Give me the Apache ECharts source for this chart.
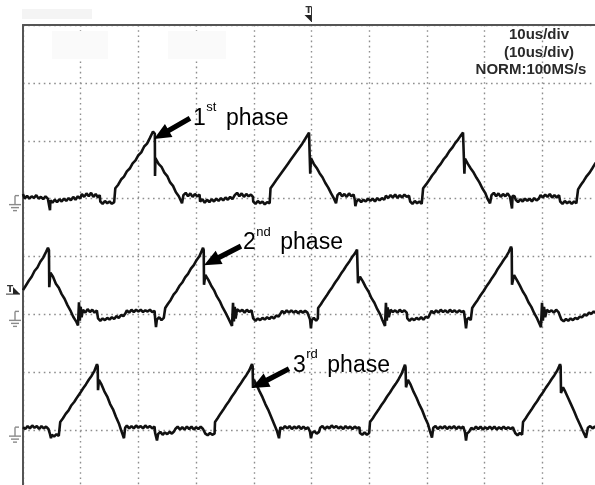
<!DOCTYPE html>
<html>
<head>
<meta charset="utf-8">
<script src="https://cdn.jsdelivr.net/npm/echarts@6/dist/echarts.min.js"></script>
<style>
html,body{margin:0;padding:0;background:#fff;}
#c{width:595px;height:485px;}
</style>
</head>
<body>
<div id="c"></div>
<script>
// ---- DATA (time in us, amplitude in divisions) ----
const timeBaseLabels = ['10us/div', '(10us/div)', 'NORM:100MS/s'];
const phaseNumbers = ['1', '2', '3'];
const phaseSuffixes = ['st', 'nd', 'rd'];
const phaseWord = 'phase';
const channelGroundLevels = [5, 3, 1];

const ch1Trace = [
[0,5.08],[0.3,5.0],[0.7,5.05],[1.1,5.0],[1.5,5.04],[1.9,5.01],[2.3,5.06],[2.7,5.0],[3.1,5.03],[3.5,4.99],[3.9,5.04],[4.3,5.0],[4.6,5.02],[4.68,4.80],[4.75,4.97],
[5.1,4.93],[5.5,4.98],[5.9,4.94],[6.3,4.99],[6.7,4.95],[7.1,5.0],[7.5,4.96],[7.9,5.01],[8.3,4.97],[8.7,5.03],[9.1,4.98],[9.5,5.04],[9.9,5.0],
[10.2,5.08],[10.6,5.03],[11.0,5.09],[11.4,5.04],[11.8,5.1],[12.2,5.03],[12.6,5.08],[13.0,5.02],[13.3,5.06],
[13.4,4.95],[13.8,4.91],[14.2,4.96],[14.6,4.92],[15.0,4.95],[15.4,4.91],[15.8,4.94],
[15.94,4.95],[16.0,5.18],[16.5,5.24],[17.0,5.33],[17.5,5.38],[18.0,5.47],[18.5,5.52],[19.0,5.61],[19.5,5.66],[20.0,5.75],[20.5,5.80],[21.0,5.90],[21.5,5.95],[22.0,6.05],[22.53,6.16],[22.85,6.12],[22.88,5.39],[22.95,5.70],
[23.5,5.60],[24.0,5.55],[24.5,5.45],[25.0,5.39],[25.5,5.28],[26.0,5.22],[26.5,5.11],[27.0,5.04],[27.56,4.92],
[27.8,5.06],[28.2,5.1],[28.6,5.04],[29.0,5.09],[29.4,5.03],[29.8,5.08],[30.2,5.04],[30.6,5.07],
[30.7,4.95],[31.1,4.99],[31.5,4.93],[31.9,4.98],[32.3,4.94],[32.7,4.99],[33.1,4.95],[33.5,5.0],[33.9,4.96],
[34.3,5.01],[34.7,4.97],[35.1,5.02],[35.5,4.98],[35.9,5.03],[36.3,4.99],
[36.7,5.06],[37.1,5.1],[37.5,5.04],[37.9,5.09],[38.3,5.03],[38.7,5.08],[39.1,5.04],[39.5,5.07],[39.85,5.03],
[39.9,4.95],[40.3,4.91],[40.7,4.96],[41.1,4.92],[41.5,4.95],[41.9,4.9],[42.3,4.94],[42.75,4.92],
[42.81,4.93],[42.9,5.18],[43.4,5.25],[43.9,5.32],[44.4,5.39],[44.9,5.46],[45.4,5.53],[45.9,5.60],[46.4,5.67],[46.9,5.74],[47.4,5.81],[47.9,5.88],[48.4,5.95],[48.9,6.03],[49.57,6.14],[49.75,6.11],[49.78,5.43],[49.9,5.70],
[50.4,5.6],[50.9,5.53],[51.4,5.44],[51.9,5.37],[52.4,5.27],[52.9,5.19],[53.4,5.09],[53.9,5.0],[54.25,4.92],
[54.5,5.06],[54.9,5.1],[55.3,5.04],[55.7,5.08],[56.1,5.03],[56.5,5.09],[56.9,5.04],[57.3,5.07],
[57.5,4.98],[57.6,4.87],[57.8,4.95],[58.2,4.99],[58.6,4.94],[59.0,4.98],[59.4,4.95],[59.8,5.0],[60.2,4.96],[60.6,5.0],[61.0,4.95],[61.4,5.01],[61.8,4.97],[62.2,5.01],[62.6,4.98],
[62.9,5.05],[63.3,5.01],[63.7,5.06],[64.1,5.02],[64.5,5.07],[64.9,5.01],[65.3,5.06],[65.7,5.02],[66.1,5.07],[66.5,5.03],[66.9,5.05],
[67.1,4.95],[67.5,4.91],[67.9,4.96],[68.3,4.92],[68.7,4.95],[69.1,4.91],[69.3,4.94],
[69.35,5.18],[69.9,5.25],[70.4,5.32],[70.9,5.4],[71.4,5.46],[71.9,5.54],[72.4,5.6],[72.9,5.68],[73.4,5.74],[73.9,5.82],[74.4,5.88],[74.9,5.96],[75.4,6.02],[75.8,6.08],[76.26,6.14],[76.45,6.11],[76.5,5.43],[76.6,5.69],
[77.1,5.6],[77.6,5.52],[78.1,5.45],[78.6,5.36],[79.1,5.28],[79.6,5.18],[80.1,5.1],[80.5,5.0],[80.94,4.92],
[81.2,5.06],[81.6,5.1],[82.0,5.04],[82.4,5.09],[82.8,5.03],[83.2,5.08],[83.6,5.04],[84.0,5.09],[84.4,5.03],[84.75,4.83],[84.85,5.05],[85.2,5.04],
[85.4,4.98],[85.8,4.94],[86.2,4.99],[86.6,4.95],[87.0,5.0],[87.4,4.96],[87.8,5.0],[88.2,4.95],[88.6,5.01],[89.0,4.97],[89.4,5.0],
[89.7,5.06],[90.1,5.02],[90.5,5.07],[90.9,5.03],[91.3,5.08],[91.7,5.02],[92.1,5.06],[92.5,5.02],[92.9,5.06],
[93.1,4.95],[93.5,4.91],[93.9,4.96],[94.3,4.92],[94.7,4.95],[95.1,4.91],[95.5,4.95],[95.9,4.92],[96.15,4.94],
[96.2,5.16],[96.7,5.24],[97.2,5.31],[97.7,5.39],[98.2,5.45],[98.7,5.53],[99.13,5.60],[99.6,5.66],[100,5.72]
];

const ch2Trace = [
[0,3.42],[0.5,3.50],[1.0,3.58],[1.5,3.65],[2.0,3.75],[2.5,3.81],[3.0,3.91],[3.5,3.98],[4.0,4.08],[4.33,4.15],[4.5,4.11],[4.55,3.47],[4.75,3.72],
[5.2,3.65],[5.7,3.53],[6.2,3.46],[6.7,3.35],[7.2,3.27],[7.7,3.16],[8.2,3.07],[8.7,2.96],[9.2,2.88],[9.53,2.81],
[9.7,3.21],[9.85,2.89],[10.0,3.13],[10.15,2.95],[10.4,3.08],
[10.8,3.03],[11.2,3.09],[11.6,3.04],[12.0,3.08],[12.4,3.03],[12.8,3.07],
[13.0,2.93],[13.4,2.89],[13.8,2.93],[14.2,2.90],[14.6,2.94],[15.0,2.91],[15.4,2.95],[15.8,2.92],[16.2,2.97],[16.6,2.94],[17.0,2.99],[17.4,2.97],[17.7,3.01],
[18.0,3.07],[18.4,3.03],[18.8,3.08],[19.2,3.04],[19.6,3.08],[20.0,3.05],[20.4,3.08],[20.8,3.04],[21.2,3.07],[21.6,3.05],[22.0,3.08],[22.4,3.04],[22.8,3.06],
[22.9,2.93],[23.05,2.78],[23.2,2.91],[23.6,2.95],[24.0,2.90],[24.4,2.94],[24.6,2.91],
[24.65,3.11],[25.1,3.18],[25.6,3.25],[26.1,3.34],[26.6,3.40],[27.1,3.49],[27.6,3.55],[28.1,3.64],[28.6,3.70],[29.1,3.79],[29.6,3.85],[30.1,3.94],[30.6,4.01],[31.2,4.15],[31.32,4.11],[31.37,3.51],[31.6,3.68],
[32.1,3.60],[32.6,3.50],[33.1,3.42],[33.6,3.31],[34.1,3.23],[34.6,3.12],[35.1,3.03],[35.6,2.93],[36.22,2.80],
[36.4,3.20],[36.55,2.88],[36.7,3.13],[36.85,2.93],[37.1,3.09],[37.6,3.05],
[38.0,3.08],[38.4,3.03],[38.8,3.08],[39.2,3.04],[39.6,3.07],
[39.9,2.93],[40.3,2.89],[40.7,2.93],[41.1,2.90],[41.5,2.94],[41.9,2.91],[42.3,2.95],[42.7,2.92],[43.1,2.96],[43.5,2.93],[43.9,2.98],[44.3,2.96],[44.6,3.01],
[44.9,3.06],[45.3,3.02],[45.7,3.07],[46.1,3.03],[46.5,3.07],[46.9,3.03],[47.3,3.06],[47.7,3.02],[48.1,3.06],[48.5,3.03],[48.9,3.06],[49.3,3.03],[49.6,3.05],
[49.75,2.91],[49.9,2.76],[50.05,2.90],[50.4,2.94],[50.8,2.89],[51.1,2.93],
[51.15,3.11],[51.6,3.17],[52.1,3.25],[52.6,3.32],[53.1,3.40],[53.6,3.47],[54.1,3.55],[54.6,3.62],[55.1,3.70],[55.6,3.77],[56.1,3.85],[56.6,3.92],[57.1,4.00],[57.5,4.05],[57.89,4.12],[58.0,4.09],[58.06,3.54],[58.4,3.65],
[58.9,3.57],[59.4,3.47],[59.9,3.39],[60.4,3.28],[60.9,3.20],[61.4,3.09],[61.9,3.00],[62.3,2.90],[62.74,2.80],
[62.9,3.20],[63.05,2.89],[63.2,3.12],[63.4,2.95],[63.7,3.08],[64.1,3.04],[64.5,3.07],
[64.9,3.03],[65.3,3.08],[65.7,3.04],[66.1,3.07],[66.5,3.03],
[66.6,2.93],[67.0,2.89],[67.4,2.93],[67.8,2.90],[68.2,2.94],[68.6,2.91],[69.0,2.95],[69.4,2.91],[69.8,2.96],[70.2,2.94],[70.5,3.00],
[70.8,3.06],[71.2,3.02],[71.6,3.07],[72.0,3.03],[72.4,3.08],[72.8,3.04],[73.2,3.07],[73.6,3.03],[74.0,3.08],[74.4,3.04],[74.8,3.07],[75.2,3.03],[75.6,3.07],[76.0,3.04],[76.4,3.06],
[76.6,2.92],[76.78,2.76],[76.95,2.91],[77.3,2.94],[77.6,2.90],[77.8,2.93],
[77.85,3.11],[78.3,3.18],[78.8,3.25],[79.3,3.33],[79.8,3.40],[80.3,3.48],[80.8,3.55],[81.3,3.63],[81.8,3.70],[82.3,3.79],[82.8,3.86],[83.3,3.94],[83.8,4.01],[84.2,4.08],[84.58,4.17],[84.7,4.13],[84.75,3.51],[85.1,3.68],
[85.6,3.59],[86.1,3.50],[86.6,3.40],[87.1,3.32],[87.6,3.21],[88.1,3.13],[88.6,3.02],[89.1,2.93],[89.77,2.78],
[89.95,3.20],[90.1,2.89],[90.3,3.13],[90.5,2.95],[90.8,3.08],[91.2,3.04],
[91.6,3.07],[92.0,3.03],[92.4,3.08],[92.8,3.04],[93.1,3.06],
[93.3,2.91],[93.7,2.88],[94.1,2.92],[94.5,2.89],[94.9,2.93],[95.3,2.90],[95.7,2.94],[96.1,2.92],[96.5,2.96],[96.9,2.95],[97.3,3.00],[97.7,2.98],[98.1,3.03],[98.5,3.01],[98.9,3.05],[99.3,3.02],[100,3.05]
];

const ch3Trace = [
[0,1.05],[0.4,1.02],[0.8,1.07],[1.2,1.03],[1.6,1.08],[2.0,1.04],[2.4,1.07],[2.8,1.02],[3.2,1.07],[3.6,1.03],[4.0,1.06],[4.4,1.02],
[4.68,0.93],[4.85,0.86],[5.0,0.92],[5.4,0.89],[5.8,0.93],[6.2,0.90],[6.4,0.92],
[6.45,1.14],[6.9,1.20],[7.4,1.28],[7.9,1.34],[8.4,1.43],[8.9,1.49],[9.4,1.57],[9.9,1.64],[10.4,1.72],[10.9,1.79],[11.4,1.87],[11.9,1.94],[12.4,2.03],[12.82,2.14],[12.95,2.10],[13.0,1.69],[13.15,1.87],
[13.6,1.79],[14.1,1.67],[14.6,1.58],[15.1,1.45],[15.6,1.36],[16.1,1.23],[16.6,1.12],[17.0,1.00],[17.5,0.86],
[17.7,1.04],[18.0,1.08],[18.4,1.03],[18.8,1.07],[19.2,1.03],[19.6,1.08],[20.0,1.04],[20.4,1.07],[20.8,1.03],[21.2,1.08],[21.6,1.04],[22.0,1.07],[22.4,1.03],[22.8,1.06],
[22.9,0.95],[23.22,0.82],[23.4,0.93],[23.8,0.97],[24.2,0.92],[24.6,0.96],[25.0,0.93],[25.4,0.97],[25.8,0.94],[26.2,0.98],
[26.4,1.02],[26.8,1.06],[27.2,1.01],[27.6,1.05],[28.0,1.01],[28.4,1.06],[28.8,1.02],[29.2,1.06],[29.6,1.01],[30.0,1.05],[30.4,1.02],[30.8,1.06],[31.2,1.02],[31.5,1.04],
[31.6,0.94],[32.0,0.91],[32.4,0.95],[32.8,0.92],[33.2,0.94],
[33.28,1.14],[33.7,1.20],[34.2,1.28],[34.7,1.35],[35.2,1.43],[35.7,1.50],[36.2,1.58],[36.7,1.65],[37.2,1.73],[37.7,1.80],[38.2,1.88],[38.7,1.95],[39.2,2.03],[39.69,2.14],[39.8,2.10],[39.86,1.73],[40.03,1.87],
[40.5,1.78],[41.0,1.67],[41.5,1.57],[42.0,1.45],[42.5,1.35],[43.0,1.23],[43.5,1.11],[44.0,0.99],[44.37,0.86],
[44.6,1.05],[45.0,1.02],[45.4,1.07],[45.8,1.03],[46.2,1.07],[46.6,1.02],[47.0,1.06],[47.4,1.03],[47.8,1.07],[48.2,1.02],[48.6,1.06],[49.0,1.02],[49.4,1.05],
[49.74,0.97],[49.91,0.86],[50.1,0.95],[50.5,0.98],[50.9,0.94],[51.3,0.97],
[51.5,1.04],[51.9,1.07],[52.3,1.02],[52.7,1.06],[53.1,1.03],[53.5,1.08],[53.9,1.04],[54.3,1.07],[54.7,1.03],[55.1,1.06],[55.5,1.02],[55.9,1.07],[56.3,1.03],[56.7,1.06],[57.1,1.02],[57.5,1.06],[57.9,1.03],[58.3,1.05],
[58.4,0.95],[58.8,0.92],[59.2,0.96],[59.6,0.92],[60.0,0.95],
[60.14,1.14],[60.6,1.20],[61.1,1.28],[61.6,1.35],[62.1,1.43],[62.6,1.50],[63.1,1.58],[63.6,1.65],[64.1,1.73],[64.6,1.80],[65.1,1.88],[65.6,1.97],[66.2,2.13],[66.3,2.09],[66.38,1.74],[66.72,1.87],
[67.2,1.78],[67.7,1.66],[68.2,1.56],[68.7,1.44],[69.2,1.34],[69.7,1.21],[70.2,1.10],[70.5,0.99],[70.88,0.87],
[71.1,1.04],[71.5,1.07],[71.9,1.02],[72.3,1.06],[72.7,1.03],[73.1,1.07],[73.5,1.02],[73.9,1.06],[74.3,1.03],[74.7,1.07],[75.1,1.02],[75.5,1.06],[75.9,1.03],[76.3,1.06],
[76.6,0.96],[76.78,0.82],[76.95,0.94],[77.3,0.97],[77.47,0.99],
[77.7,1.04],[78.1,1.01],[78.5,1.06],[78.9,1.02],[79.3,1.06],[79.7,1.01],[80.1,1.05],[80.5,1.02],[80.9,1.06],[81.3,1.02],[81.7,1.06],[82.1,1.01],[82.5,1.05],[82.9,1.02],[83.3,1.06],[83.7,1.02],[84.1,1.05],[84.5,1.02],[84.9,1.05],[85.2,1.03],
[85.3,0.95],[85.7,0.91],[86.1,0.95],[86.5,0.92],
[86.66,1.14],[87.1,1.20],[87.6,1.28],[88.1,1.35],[88.6,1.43],[89.1,1.50],[89.6,1.58],[90.1,1.65],[90.6,1.73],[91.1,1.80],[91.6,1.88],[92.1,1.95],[92.6,2.03],[93.07,2.14],[93.18,2.10],[93.24,1.64],[93.59,1.74],
[94.0,1.66],[94.5,1.55],[95.0,1.44],[95.5,1.33],[96.0,1.21],[96.5,1.10],[97.0,0.99],[97.57,0.87],
[97.9,1.04],[98.3,1.07],[98.7,1.03],[99.1,1.06],[99.5,1.03],[100,1.05]
];

// ---- CHART ----
const chart = echarts.init(document.getElementById('c'), null, {renderer: 'canvas'});

const gridDots = {type: [1.6, 3.6], color: '#8e8e8e', width: 1.4};
const traceStyle = {color: '#111', width: 2.6};

function traceSeries(name, data) {
  return {
    name: name, type: 'line', data: data, showSymbol: false, silent: true,
    lineStyle: traceStyle, animation: false, z: 5
  };
}

chart.setOption({
  animation: false,
  backgroundColor: '#fff',
  grid: {left: 23, top: 25, right: -5, bottom: -3, outerBoundsMode: 'none', containLabel: false},
  xAxis: {
    type: 'value', min: 0, max: 100, interval: 10, position: 'top',
    axisLine: {show: true, onZero: false, lineStyle: {color: '#555', width: 2}},
    axisTick: {show: false}, axisLabel: {show: false},
    splitLine: {show: true, lineStyle: gridDots}
  },
  yAxis: {
    type: 'value', min: 0, max: 8, interval: 1,
    axisLine: {show: true, onZero: false, lineStyle: {color: '#555', width: 2}},
    axisTick: {show: false}, axisLabel: {show: false},
    splitLine: {show: true, lineStyle: gridDots}
  },
  series: [
    traceSeries('CH1', ch1Trace),
    traceSeries('CH2', ch2Trace),
    traceSeries('CH3', ch3Trace)
  ]
});

// ---- ANNOTATIONS / SCOPE DECORATIONS ----
const toPx = p => chart.convertToPixel({gridIndex: 0}, p);
const mctx = document.createElement('canvas').getContext('2d');
function textW(t, font) { mctx.font = font; return mctx.measureText(t).width; }

function arrowPoints(tail, tip) {
  const dx = tip[0] - tail[0], dy = tip[1] - tail[1];
  const L = Math.hypot(dx, dy), ux = dx / L, uy = dy / L, nx = -uy, ny = ux;
  const hl = 17, hw = 7.5, sw = 2.6;
  const bx = tip[0] - ux * hl, by = tip[1] - uy * hl;
  return [
    [tail[0] + nx * sw, tail[1] + ny * sw], [bx + nx * sw, by + ny * sw], [bx + nx * hw, by + ny * hw],
    tip, [bx - nx * hw, by - ny * hw], [bx - nx * sw, by - ny * sw], [tail[0] - nx * sw, tail[1] - ny * sw]
  ];
}

// anchors in data space (us, div)
const noteAnchors = [
  {text: [29.46, 6.26], tail: [28.94, 6.39], tip: [22.70, 6.03]},
  {text: [38.13, 4.11], tail: [37.78, 4.18], tip: [31.37, 3.85]},
  {text: [46.79, 2.00], tail: [46.10, 2.06], tip: [39.69, 1.73]}
];

const FONT_BIG = '23px "Liberation Sans", Arial, sans-serif';
const FONT_SUP = '13px "Liberation Sans", Arial, sans-serif';
const graphics = [];

// faint blurred header areas
graphics.push({type: 'rect', shape: {x: 22, y: 9, width: 70, height: 10}, style: {fill: '#f4f4f4'}, silent: true});
graphics.push({type: 'rect', shape: {x: 52, y: 31, width: 56, height: 28}, style: {fill: '#fafafa'}, silent: true});
graphics.push({type: 'rect', shape: {x: 168, y: 31, width: 58, height: 28}, style: {fill: '#fafafa'}, silent: true});

// timebase text
const tbY = [35, 53, 70], tbX = [539, 539, 531];
timeBaseLabels.forEach((t, i) => {
  graphics.push({type: 'text', x: tbX[i], y: tbY[i], z: 20, silent: true,
    style: {text: t, font: 'bold 15px "Liberation Sans", Arial, sans-serif', fill: '#2a2a2a', align: 'center', verticalAlign: 'middle'}});
});

// top trigger marker
const trigTop = toPx([50, 8]);
graphics.push({type: 'text', x: trigTop[0] - 3, y: 11, z: 20, silent: true,
  style: {text: 'T', font: 'bold 9px "DejaVu Sans", sans-serif', fill: '#333', align: 'center', verticalAlign: 'middle'}});
graphics.push({type: 'polygon', z: 20, silent: true, shape: {points: [[trigTop[0] - 7, 15], [trigTop[0], 15], [trigTop[0], 22]]}, style: {fill: '#222'}});
graphics.push({type: 'line', z: 20, silent: true, shape: {x1: trigTop[0], y1: 7, x2: trigTop[0], y2: 22}, style: {stroke: '#333', lineWidth: 1}});

// left trigger level marker
const trigLeft = toPx([0, 3.35]);
graphics.push({type: 'text', x: 10, y: trigLeft[1] - 4, z: 20, silent: true,
  style: {text: 'T', font: 'bold 9px "DejaVu Sans", sans-serif', fill: '#333', align: 'center', verticalAlign: 'middle'}});
graphics.push({type: 'polygon', z: 20, silent: true, shape: {points: [[13, trigLeft[1] - 7], [13, trigLeft[1]], [20, trigLeft[1]]]}, style: {fill: '#222'}});
graphics.push({type: 'line', z: 20, silent: true, shape: {x1: 6, y1: trigLeft[1], x2: 20, y2: trigLeft[1]}, style: {stroke: '#333', lineWidth: 1}});

// ground symbols
channelGroundLevels.forEach(v => {
  const p = toPx([0, v]);
  const top = p[1] - 3, cx = 15, col = '#8a8a8a';
  [[cx, top, cx, top + 9], [cx, top, cx + 4, top], [cx - 6, top + 9, cx + 6, top + 9],
   [cx - 4, top + 12, cx + 4, top + 12], [cx - 2, top + 15, cx + 2, top + 15]].forEach(s => {
    graphics.push({type: 'line', z: 20, silent: true, shape: {x1: s[0], y1: s[1], x2: s[2], y2: s[3]}, style: {stroke: col, lineWidth: 1.4}});
  });
});

// phase annotations
noteAnchors.forEach((a, i) => {
  const tp = toPx(a.text);
  const baseY = tp[1];
  const numW = textW(phaseNumbers[i], FONT_BIG);
  const supW = textW(phaseSuffixes[i], FONT_SUP);
  graphics.push({type: 'text', x: tp[0], y: baseY - 7, z: 30, silent: true,
    style: {text: phaseNumbers[i], font: FONT_BIG, fill: '#000', align: 'left', verticalAlign: 'middle'}});
  graphics.push({type: 'text', x: tp[0] + numW + 0.5, y: baseY - 18, z: 30, silent: true,
    style: {text: phaseSuffixes[i], font: FONT_SUP, fill: '#000', align: 'left', verticalAlign: 'middle'}});
  graphics.push({type: 'text', x: tp[0] + numW + supW + 10, y: baseY - 7, z: 30, silent: true,
    style: {text: phaseWord, font: FONT_BIG, fill: '#000', align: 'left', verticalAlign: 'middle'}});
  graphics.push({type: 'polygon', z: 30, silent: true,
    shape: {points: arrowPoints(toPx(a.tail), toPx(a.tip))}, style: {fill: '#000'}});
});

chart.setOption({graphic: graphics});
</script>
</body>
</html>
